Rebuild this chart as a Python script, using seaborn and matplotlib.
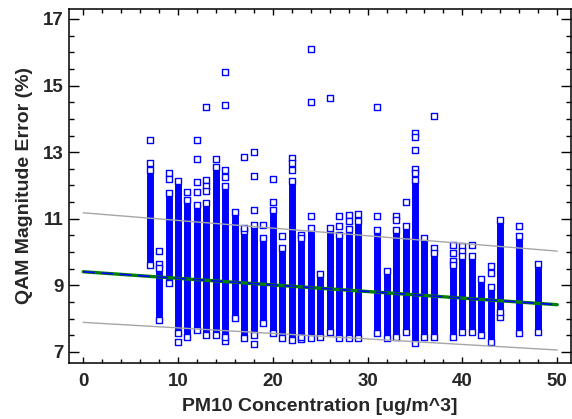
import numpy as np
import pandas as pd
import matplotlib
matplotlib.use("Agg")
import matplotlib.pyplot as plt
import seaborn as sns
from matplotlib.ticker import MultipleLocator

# ---- data ----
# dense columns of points (PM10 value, lowest and highest value of the dense run)
col_x = [7, 8, 9, 10, 11, 12, 13, 14, 15, 16, 17, 18, 19, 20, 21, 22, 23, 24, 25, 26,
         27, 28, 29, 31, 32, 33, 34, 35, 36, 37, 39, 40, 41, 42, 43, 44, 46, 48]
col_lo = [9.62, 7.96, 9.07, 7.56, 7.46, 7.66, 7.51, 7.51, 7.46, 8.01, 7.41, 7.51, 7.86, 7.56,
          7.41, 7.36, 7.46, 7.41, 7.44, 7.61, 7.41, 7.41, 7.41, 7.56, 7.41, 7.46, 7.61, 7.26,
          7.46, 7.46, 7.46, 7.61, 7.61, 7.51, 7.31, 8.21, 7.56, 7.59]
col_hi = [12.47, 9.52, 11.77, 12.12, 11.57, 11.42, 11.47, 12.57, 11.97, 11.19, 10.72, 10.82,
          10.42, 11.27, 10.12, 12.12, 10.42, 10.72, 9.35, 10.72, 10.52, 10.69, 10.92, 10.67,
          9.42, 10.67, 10.77, 12.17, 10.42, 9.97, 9.62, 9.87, 9.87, 9.19, 8.96, 10.97, 10.47,
          9.65]

# isolated points
pt_x = [7, 7, 8, 8, 9, 9, 10, 11, 12, 12, 12, 12, 13, 13, 13, 13, 14,
        15, 15, 15, 15, 15, 17, 17, 18, 18, 18, 18, 19, 20, 20, 21, 22, 22, 22,
        23, 23, 24, 24, 24, 26, 27, 27, 28, 28, 29, 31, 31, 33, 33, 34,
        35, 35, 35, 35, 35, 37, 37, 39, 39, 39, 40, 40, 41, 43, 43, 44, 46]
pt_y = [13.37, 12.68, 10.02, 9.65, 12.39, 12.19, 7.29, 11.80, 13.37, 12.81, 12.09, 11.79,
        14.35, 12.16, 11.97, 11.84, 12.81,
        15.42, 14.41, 12.47, 12.27, 7.33, 12.87, 10.62, 13.02, 12.29, 11.27, 7.25, 10.80,
        12.19, 11.51, 10.47, 12.82, 12.69, 12.47,
        10.52, 7.38, 16.10, 14.51, 11.07, 14.64, 11.09, 10.79, 11.12, 10.92, 11.15, 14.35,
        11.09, 11.07, 10.95, 11.49,
        13.58, 13.45, 13.08, 12.49, 12.37, 14.09, 10.12, 10.22, 9.97, 9.72, 10.17, 10.02,
        10.22, 9.57, 9.37, 8.04, 10.77]

# fitted line and prediction limits
fit_x = [0, 50]
fit_y = [9.41, 8.42]
band_up = [11.18, 10.03]
band_lo = [7.89, 7.06]

x_ticks = [0, 10, 20, 30, 40, 50]
y_ticks = [7, 9, 11, 13, 15, 17]

# ---- style ----
sns.set_style("ticks")
plt.rcParams['font.family'] = ['Liberation Sans', 'DejaVu Sans']
plt.rcParams['font.weight'] = 'bold'

BLUE = '#0000FF'

fig = plt.figure(figsize=(5.72, 4.19), dpi=100)
ax = fig.add_axes([0.1206, 0.1337, 0.999 - 0.1206, 0.9785 - 0.1337])

# dense columns
ax.vlines(col_x, col_lo, col_hi, colors=BLUE, linewidth=5.0, zorder=2)

pts = pd.DataFrame({'x': pt_x + col_x + col_x, 'y': pt_y + col_lo + col_hi})
sns.scatterplot(data=pts, x='x', y='y', marker='s', s=17, facecolor='white',
                edgecolor=BLUE, linewidth=1.0, ax=ax, zorder=3, legend=False)

# bands and fit
sns.lineplot(x=fit_x, y=band_up, color='#A6A6A6', linewidth=1.0, ax=ax, zorder=4)
sns.lineplot(x=fit_x, y=band_lo, color='#A6A6A6', linewidth=1.0, ax=ax, zorder=4)
sns.lineplot(x=fit_x, y=fit_y, color='#008000', linewidth=2.4, ax=ax, zorder=5)
sns.lineplot(x=fit_x, y=fit_y, color=BLUE, linewidth=1.2, dashes=False, ax=ax, zorder=6,
             linestyle=(0, (7, 4)))

ax.set_xlim(-1.5, 51.5)
ax.set_ylim(6.67, 17.3)
ax.set_xticks(x_ticks)
ax.set_yticks(y_ticks)
ax.xaxis.set_minor_locator(MultipleLocator(2))
ax.yaxis.set_minor_locator(MultipleLocator(0.5))

for s in ax.spines.values():
    s.set_visible(True)
    s.set_linewidth(1.1)
    s.set_color('black')

ax.tick_params(axis='both', which='both', direction='in', top=True, right=True,
               width=1.0, color='black')
ax.tick_params(axis='x', which='major', length=4.5, pad=7, labelsize=13.5)
ax.tick_params(axis='x', which='minor', length=2.6)
ax.tick_params(axis='y', which='major', length=7.2, pad=4, labelsize=13.5)
ax.tick_params(axis='y', which='minor', length=3.6)
for lab in ax.get_xticklabels() + ax.get_yticklabels():
    lab.set_fontweight('bold')

ax.set_xlabel('PM10 Concentration [ug/m^3]', fontsize=14, fontweight='bold', labelpad=6)
ax.set_ylabel('QAM Magnitude Error (%)', fontsize=14, fontweight='bold', labelpad=7)

fig.savefig('out.png', dpi=100)
